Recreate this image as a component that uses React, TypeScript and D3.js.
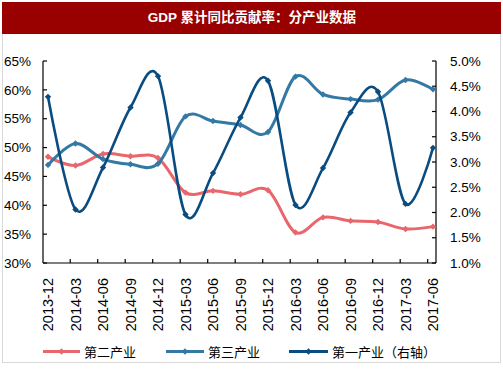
import React from "react";
import * as d3 from "d3";

const categories = ["2013-12","2014-03","2014-06","2014-09","2014-12","2015-03","2015-06","2015-09","2015-12","2016-03","2016-06","2016-09","2016-12","2017-03","2017-06"];
const secondary = [48.4,46.9,48.9,48.5,48.2,42.2,42.5,41.9,42.6,35.3,37.9,37.3,37.1,35.9,36.3];
const tertiary = [47.0,50.7,48.0,47.1,47.2,55.4,54.6,53.9,52.7,62.3,59.2,58.4,58.3,61.7,60.1];
const primary = [4.29,2.06,2.89,4.08,4.70,1.96,2.78,3.88,4.61,2.15,2.88,3.98,4.39,2.17,3.28];
const leftTicks = [30,35,40,45,50,55,60,65];
const rightTicks = [1.0,1.5,2.0,2.5,3.0,3.5,4.0,4.5,5.0];
const title = "GDP 累计同比贡献率：分产业数据";
const seriesNames = ["第二产业","第三产业","第一产业（右轴）"];

const RED = "#E8666C";
const TEAL = "#3478A4";
const NAVY = "#0A4C80";
const FONT = "'Liberation Sans', Arial, 'Noto Sans CJK SC', sans-serif";
const CJK = "'Liberation Sans', 'Noto Sans CJK SC', sans-serif";

export default function App() {
  const W = 503, H = 378;
  const x = d3.scalePoint<string>().domain(categories).range([48, 433]);
  const yL = d3.scaleLinear().domain([30, 65]).range([263, 61]);
  const yR = d3.scaleLinear().domain([1, 5]).range([263, 61]);
  const curve = d3.curveCatmullRom.alpha(0);
  const lineL = d3.line<number>().x((_, i) => x(categories[i])!).y(d => yL(d)).curve(curve);
  const lineR = d3.line<number>().x((_, i) => x(categories[i])!).y(d => yR(d)).curve(curve);
  const diamond = (cx: number, cy: number, r: number) =>
    `M${cx},${cy - r}L${cx + r},${cy}L${cx},${cy + r}L${cx - r},${cy}Z`;

  const series = [
    { data: secondary, color: RED, line: lineL, y: yL, w: 3 },
    { data: tertiary, color: TEAL, line: lineL, y: yL, w: 3 },
    { data: primary, color: NAVY, line: lineR, y: yR, w: 2.6 },
  ];
  const axisLeft = 43, axisRight = 436, axisBottom = 263;

  const legend = [
    { x0: 43, x1: 80, tx: 84, color: RED, name: seriesNames[0] },
    { x0: 166, x1: 204, tx: 208, color: TEAL, name: seriesNames[1] },
    { x0: 289, x1: 328, tx: 332, color: NAVY, name: seriesNames[2] },
  ];

  return (
    <svg width={W} height={H} style={{ position: "absolute", left: 0, top: 0 }}>
      <rect x={0} y={0} width={W} height={H} fill="#fff" />
      <rect x={2.5} y={33.5} width={498} height={329} fill="#fff" stroke="#d9d9d9" />
      <rect x={2} y={2} width={499} height={32} fill="#990000" />
      <text x={252} y={18} textAnchor="middle" dominantBaseline="middle" fill="#fff" fontWeight="bold" fontSize={13.5} fontFamily={CJK}>{title}</text>

      {/* axes */}
      <g stroke="#000" strokeWidth={1.2} fill="none">
        <line x1={axisLeft} y1={61} x2={axisLeft} y2={axisBottom} />
        <line x1={axisRight} y1={61} x2={axisRight} y2={axisBottom} />
        <line x1={axisLeft} y1={axisBottom} x2={axisRight} y2={axisBottom} />
        {leftTicks.map(t => <line key={"l" + t} x1={axisLeft} x2={axisLeft + 4} y1={yL(t)} y2={yL(t)} />)}
        {rightTicks.map(t => <line key={"r" + t} x1={axisRight - 4} x2={axisRight} y1={yR(t)} y2={yR(t)} />)}
        {categories.slice(1).map(c => <line key={"b" + c} x1={x(c)! - 5.3} x2={x(c)! - 5.3} y1={axisBottom} y2={axisBottom - 4} />)}
      </g>
      <g fontFamily={FONT} fontSize={13.5} fill="#000">
        {leftTicks.map(t => <text key={"lt" + t} x={31} y={yL(t)} dy="0.35em" textAnchor="end">{t}%</text>)}
        {rightTicks.map(t => <text key={"rt" + t} x={450} y={yR(t)} dy="0.35em" textAnchor="start">{t.toFixed(1)}%</text>)}
        {categories.map(c => (
          <text key={"ct" + c} transform={`translate(${x(c)},278) rotate(-90)`} dy="0.35em" textAnchor="end" fontSize={14.5}>{c}</text>
        ))}
      </g>

      {series.map((s, k) => (
        <g key={"s" + k}>
          <path d={s.line(s.data)!} fill="none" stroke={s.color} strokeWidth={s.w} strokeLinejoin="round" />
          {s.data.map((v, i) => (
            <path key={i} d={diamond(x(categories[i])!, s.y(v), 3.2)} fill={s.color} />
          ))}
        </g>
      ))}

      {legend.map((l, k) => (
        <g key={"lg" + k}>
          <line x1={l.x0} x2={l.x1} y1={351.5} y2={351.5} stroke={l.color} strokeWidth={3} />
          <path d={diamond((l.x0 + l.x1) / 2, 351.5, 3.2)} fill={l.color} />
          <text x={l.tx} y={352} dy="0.35em" fontSize={13} fontFamily={CJK} fill="#000">{l.name}</text>
        </g>
      ))}
    </svg>
  );
}
